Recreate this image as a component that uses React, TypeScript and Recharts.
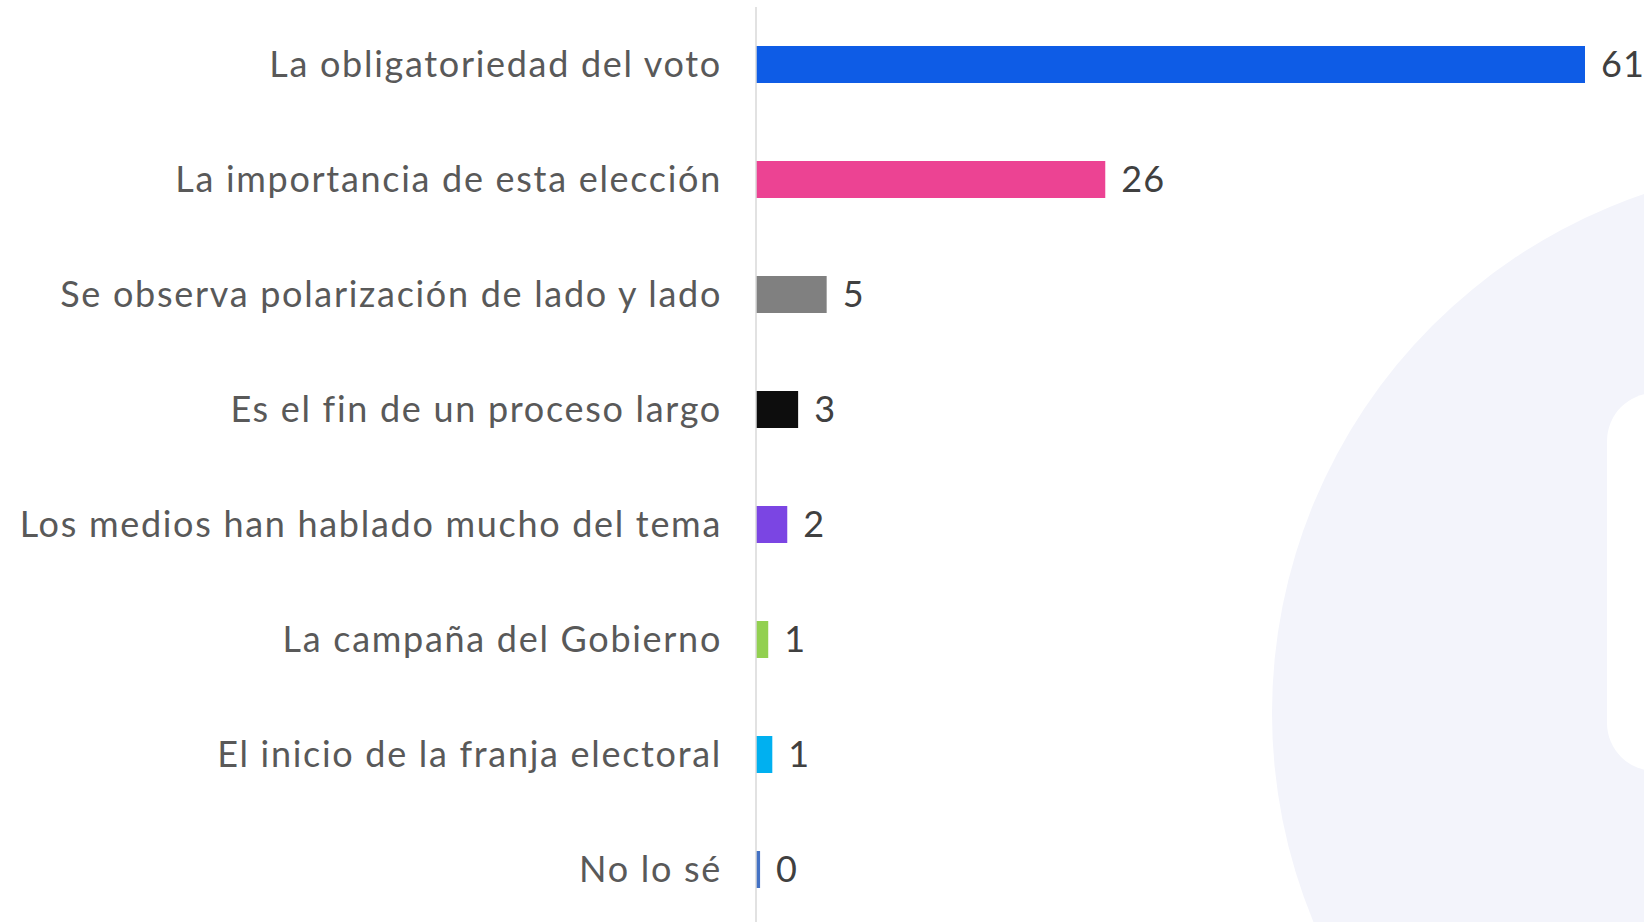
import { BarChart, Bar, XAxis, YAxis, Cell, LabelList } from "recharts";

const categories = [
  "La obligatoriedad del voto",
  "La importancia de esta elección",
  "Se observa polarización de lado y lado",
  "Es el fin de un proceso largo",
  "Los medios han hablado mucho del tema",
  "La campaña del Gobierno",
  "El inicio de la franja electoral",
  "No lo sé",
];

// bar lengths; labels show them rounded
const values = [61, 25.7, 5.2, 3.1, 2.3, 0.9, 1.2, 0.3];

const colors = [
  "#0e5ce6",
  "#ec4393",
  "#808080",
  "#0d0d0d",
  "#7b45e3",
  "#92d050",
  "#00b0f0",
  "#4472c4",
];

const data = categories.map((name, i) => ({ name, value: values[i] }));

const FONT = "Lato, 'Open Sans', sans-serif";

const Watermark = () => (
  <svg
    width={1644}
    height={922}
    style={{ position: "absolute", left: 0, top: 0 }}
  >
    <circle cx={1820} cy={713} r={548} fill="#f3f4fb" />
    <rect x={1607} y={393} width={200} height={378} rx={48} fill="#ffffff" />
  </svg>
);

export default function App() {
  return (
    <div
      style={{
        position: "absolute",
        left: 0,
        top: 0,
        width: 1644,
        height: 922,
        overflow: "hidden",
        background: "#fff",
      }}
    >
      <Watermark />
      <div style={{ position: "absolute", left: 0, top: 0 }}>
        <BarChart
          width={1644}
          height={927}
          data={data}
          layout="vertical"
          margin={{ top: 7, right: 59, bottom: 0, left: 0 }}
          barSize={37}
        >
          <XAxis type="number" hide domain={[0, "dataMax"]} />
          <YAxis
            type="category"
            dataKey="name"
            width={756}
            tickLine={false}
            tickSize={0}
            tickMargin={34}
            axisLine={{ stroke: "#d9d9d9", strokeWidth: 1.5 }}
            tick={{
              fill: "#595959",
              fontSize: 36,
              fontFamily: FONT,
              letterSpacing: 1.7,
            }}
            interval={0}
          />
          <Bar dataKey="value" isAnimationActive={false}>
            {data.map((d, i) => (
              <Cell key={d.name} fill={colors[i]} />
            ))}
            <LabelList
              dataKey="value"
              position="right"
              offset={16}
              formatter={(v: any) => Math.round(Number(v))}
              style={{
                fill: "#404040",
                fontSize: 36,
                fontFamily: FONT,
                letterSpacing: 1,
              }}
            />
          </Bar>
        </BarChart>
      </div>
    </div>
  );
}
